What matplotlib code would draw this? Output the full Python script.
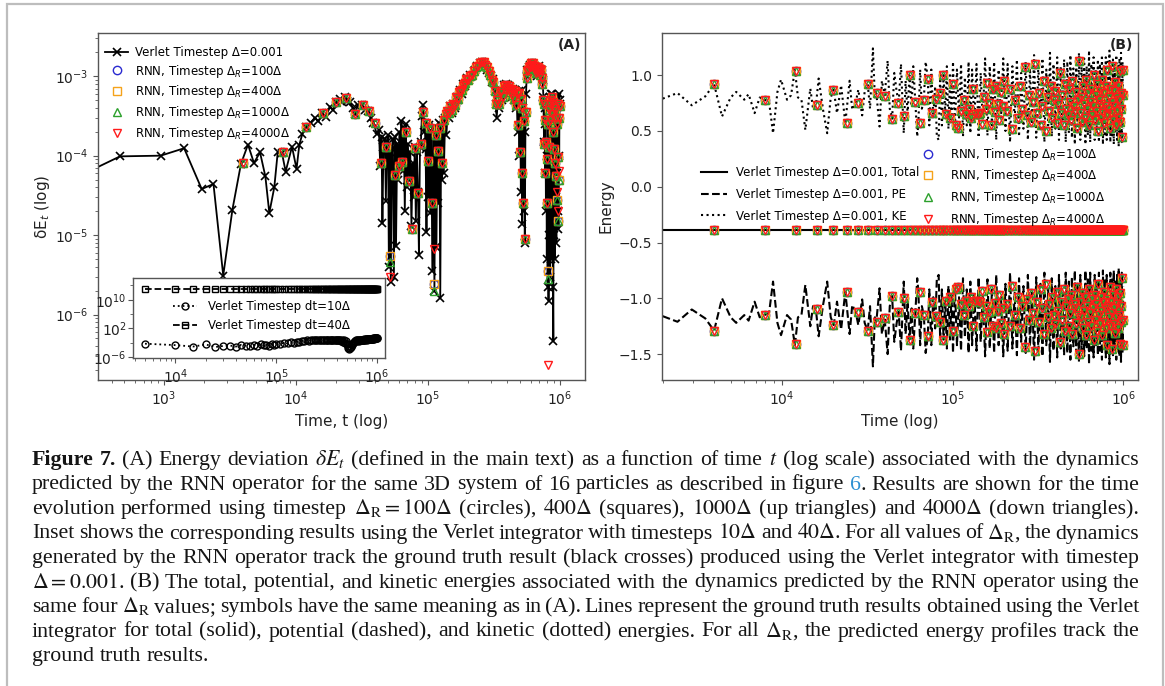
import matplotlib
matplotlib.use("Agg")
import matplotlib.pyplot as plt
from matplotlib.ticker import FixedLocator, NullFormatter
from matplotlib.patches import Rectangle

# ---------------- panel (A): energy deviation, Verlet dt = 0.001 ----------------
verletA_t = [
    200, 464, 944, 1420, 1930, 2370, 2810, 3300, 3830, 4330,
    4800, 5340, 5860, 6280, 6850, 7270, 7830, 8350, 9330, 10100,
    10600, 11200, 11900, 12900, 13900, 14800, 15700, 16800, 18100, 19000,
    20100, 21500, 22500, 23500, 24500, 25600, 27000, 28000, 29500, 31500,
    33500, 35300, 36800, 38600, 40900,
    42500, 43500, 44500, 45200, 46000, 47200, 48000, 48800, 49800, 50600,
    51500, 52300, 53200, 54200, 55200, 56300, 57300, 58500, 59500, 60800,
    62000, 63000, 64200, 65500, 66800, 68000, 69200, 70500, 72000, 73500,
    75000, 76500, 78000, 79500, 81000, 82500, 84000, 85500, 87000, 88500,
    90000, 91500, 93000, 94500, 96000, 97500, 99000, 100500, 102000, 104000,
    106000, 108000, 110000, 112000, 114000, 116000, 118000, 120000, 122000, 124000,
    126000, 128000, 130000, 132000, 135000, 138000, 141000, 144000, 148000, 152000,
    156000, 160000, 165000, 170000, 175000, 180000, 186000, 192000, 198000, 204000,
    210000, 216000, 222000, 228000, 235000, 242000, 250000, 258000, 266000, 274000,
    282000, 290000, 298000, 306000, 313000, 320000, 326000, 332000, 338000, 344000,
    350000, 358000, 366000, 374000, 382000, 390000, 398000, 406000, 414000, 422000,
    430000, 438000, 446000, 454000, 462000, 470000, 478000, 486000, 494000, 500000,
    506000, 512000, 518000, 524000, 530000, 536000, 542000, 548000, 554000, 560000,
    566000, 572000, 580000, 588000, 596000, 604000, 612000, 620000, 628000, 636000,
    644000, 652000, 660000, 668000, 676000, 684000, 692000, 700000, 710000, 720000,
    730000, 740000, 750000, 758000, 766000, 772000, 778000, 784000, 790000, 796000,
    802000, 808000, 814000, 820000, 826000, 832000, 838000, 844000, 850000, 856000,
    862000, 868000, 874000, 880000, 886000, 892000, 898000, 904000, 910000, 916000,
    922000, 928000, 934000, 940000, 946000, 952000, 958000, 964000, 970000, 976000,
    982000, 988000, 994000, 1000000,
]
verletA_dE = [
    5.0e-5, 9.8e-5, 1.0e-4, 1.24e-4, 3.8e-5, 4.4e-5, 3.1e-6, 2.1e-5, 7.9e-5, 1.38e-4,
    8.1e-5, 1.1e-4, 5.5e-5, 1.9e-5, 4.0e-5, 1.1e-4, 1.08e-4, 6.3e-5, 1.3e-4, 6.8e-5,
    1.37e-4, 1.9e-4, 2.3e-4, 2.6e-4, 3.0e-4, 2.7e-4, 3.4e-4, 3.1e-4, 4.1e-4, 3.8e-4,
    4.7e-4, 5.2e-4, 4.8e-4, 5.4e-4, 4.9e-4, 4.7e-4, 4.0e-4, 3.3e-4, 4.4e-4, 4.3e-4,
    3.8e-4, 3.7e-4, 3.0e-4, 2.6e-4, 1.9e-4,
    2.1e-4, 7.5e-5, 1.7e-4, 1.4e-5, 1.3e-4, 1.6e-4, 2.7e-5, 1.5e-4, 1.8e-4, 4.0e-6,
    1.1e-4, 2.6e-6, 1.2e-4, 1.6e-4, 3.0e-6, 1.7e-4, 7.2e-6, 1.4e-4, 5.0e-5, 2.0e-4,
    9.0e-5, 2.7e-4, 6.5e-5, 2.2e-4, 2.0e-5, 2.5e-4, 4.0e-5, 1.4e-4, 5.0e-5, 1.1e-4,
    1.3e-5, 8.0e-5, 3.0e-5, 1.3e-4, 1.5e-5, 1.1e-4, 3.5e-5, 5.6e-6, 1.3e-4, 1.5e-4,
    3.2e-4, 4.3e-4, 2.0e-4, 2.6e-4, 1.2e-4, 1.1e-5, 2.3e-4, 3.0e-5, 2.4e-4, 1.9e-5,
    2.0e-4, 3.5e-6, 2.2e-4, 2.0e-6, 2.3e-4, 7.0e-6, 2.0e-4, 2.5e-5, 2.6e-4, 1.6e-6,
    2.4e-4, 5.0e-5, 2.8e-4, 6.0e-5, 3.0e-4, 1.8e-4, 3.5e-4, 3.0e-4, 4.2e-4, 3.4e-4,
    4.5e-4, 4.0e-4, 5.5e-4, 5.0e-4, 6.7e-4, 6.0e-4, 8.0e-4, 7.5e-4, 9.5e-4, 9.0e-4,
    1.05e-3, 1.0e-3, 1.15e-3, 1.2e-3, 1.35e-3, 1.3e-3, 1.45e-3, 1.5e-3, 1.45e-3, 1.35e-3,
    1.2e-3, 1.1e-3, 1.0e-3, 8.5e-4, 9.3e-4, 6.5e-4, 4.5e-4, 3.0e-4, 4.8e-4, 4.0e-4,
    6.0e-4, 6.7e-4, 5.0e-4, 7.7e-4, 6.5e-4, 8.0e-4, 7.0e-4, 7.7e-4, 6.0e-4, 7.3e-4,
    5.5e-4, 7.0e-4, 5.0e-4, 6.7e-4, 4.0e-4, 6.0e-4, 2.0e-4, 6.5e-4, 1.0e-4, 5.5e-4,
    3.5e-5, 6.7e-4, 1.37e-5, 4.0e-4, 2.0e-5, 3.0e-4, 8.0e-6, 2.0e-4, 6.0e-4, 1.0e-3,
    1.2e-3, 1.1e-3, 1.3e-3, 1.25e-3, 1.4e-3, 1.3e-3, 1.45e-3, 1.35e-3, 1.4e-3, 1.2e-3,
    1.35e-3, 1.1e-3, 1.25e-3, 1.0e-3, 1.1e-3, 1.2e-3, 1.35e-3, 1.15e-3, 1.25e-3, 1.05e-3,
    1.2e-3, 9.0e-4, 5.5e-4, 1.5e-4, 4.0e-4, 6.0e-5, 2.5e-4, 2.0e-5, 1.5e-4, 5.0e-6,
    1.0e-4, 2.2e-6, 3.0e-4, 1.5e-6, 4.0e-4, 1.0e-5, 5.5e-4, 3.0e-6, 6.0e-4, 5.0e-6,
    5.0e-4, 2.0e-5, 6.0e-4, 4.0e-5, 2.2e-6, 4.6e-7, 5.0e-4, 1.0e-5, 4.5e-4, 5.0e-6,
    5.5e-4, 3.0e-5, 4.0e-4, 8.0e-6, 5.0e-4, 6.0e-5, 5.5e-4, 2.0e-5, 4.5e-4, 1.2e-5,
    6.0e-4, 1.0e-4, 5.0e-4, 4.5e-4,
]

# RNN output times (same sampling used in both panels)
rnn_t = list(range(4000, 200001, 4000)) + list(range(208000, 1000001, 8000))

# RNN dE, 100Δ and 400Δ coincide in the picture
rnnA_dE = [
    8.0e-5, 1.1e-4, 2.3e-4, 3.4e-4, 4.7e-4, 5.3e-4, 3.3e-4, 4.3e-4, 3.7e-4, 2.6e-4,
    8.0e-5, 1.3e-4, 5.4e-6, 5.7e-5, 7.5e-5, 8.4e-5, 2.0e-4, 4.8e-5, 1.2e-5, 1.24e-4,
    3.4e-5, 1.4e-4, 3.5e-4, 2.6e-4, 8.6e-5, 2.2e-4, 2.5e-5, 2.4e-6, 1.8e-4, 1.16e-4,
    2.2e-4, 8.2e-5, 2.8e-4, 3.3e-4, 3.6e-4, 3.4e-4, 4.2e-4, 3.8e-4, 4.5e-4, 4.4e-4,
    5.5e-4, 5.2e-4, 6.4e-4, 6.6e-4, 6.8e-4, 7.5e-4, 8.0e-4, 8.3e-4, 9.3e-4, 9.0e-4,
    1.0e-3, 1.05e-3, 1.15e-3, 1.3e-3, 1.35e-3, 1.45e-3, 1.5e-3, 1.5e-3, 1.4e-3, 1.3e-3,
    1.15e-3, 1.05e-3, 9.0e-4, 8.5e-4, 6.5e-4, 4.5e-4, 5.0e-4, 4.5e-4, 6.2e-4, 6.5e-4,
    5.5e-4, 7.5e-4, 7.0e-4, 7.8e-4, 7.2e-4, 7.5e-4, 6.3e-4, 7.0e-4, 5.8e-4, 6.8e-4,
    5.2e-4, 6.5e-4, 4.3e-4, 6.0e-4, 2.4e-4, 6.2e-4, 1.1e-4, 5.2e-4, 6.0e-5, 4.0e-4,
    2.5e-5, 2.7e-4, 8.9e-6, 3.5e-4, 9.5e-4, 1.15e-3, 1.2e-3, 1.3e-3, 1.35e-3, 1.3e-3,
    1.45e-3, 1.4e-3, 1.45e-3, 1.3e-3, 1.35e-3, 1.25e-3, 1.3e-3, 1.1e-3, 1.15e-3, 1.2e-3,
    1.3e-3, 1.15e-3, 1.25e-3, 1.05e-3, 1.2e-3, 9.5e-4, 8.0e-4, 5.0e-4, 4.5e-4, 1.4e-4,
    2.8e-4, 6.0e-5, 1.5e-4, 2.5e-5, 9.0e-5, 3.5e-6, 2.5e-4, 3.8e-4, 1.3e-4, 4.5e-4,
    2.8e-4, 5.0e-4, 3.3e-4, 5.5e-4, 2.0e-4, 4.8e-4, 1.2e-4, 4.0e-4, 8.0e-5, 3.6e-4,
    5.5e-5, 3.0e-4, 2.8e-5, 2.5e-4, 1.5e-5, 4.5e-4, 9.5e-5, 3.0e-4, 5.0e-5, 4.2e-4,
]
# points where the triangles separate from the squares
rnnA_1000_dips = {52000: 4.6e-6, 112000: 2.0e-6, 808000: 2.8e-6}
rnnA_4000_dips = {52000: 3.0e-6, 112000: 6.6e-6, 808000: 2.3e-7,
                  944000: 3.5e-5, 960000: 2.0e-5, 992000: 6.5e-5}

# inset: plain Verlet with larger steps
inset_t = list(range(5000, 100001, 5000)) + list(range(110000, 1000001, 10000))
inset_10_dE = [
    5.0e-3, 2.0e-3, 8.0e-4, 3.0e-3, 6.0e-4, 1.2e-3, 1.5e-3, 8.0e-4, 2.5e-3, 1.5e-3,
    1.0e-3, 2.2e-3, 1.3e-3, 3.0e-3, 1.8e-3, 2.5e-3, 1.5e-3, 3.5e-3, 2.8e-3, 4.0e-3,
    5.0e-3, 8.0e-3, 6.0e-3, 1.2e-2, 1.0e-2, 2.0e-2, 1.5e-2, 3.0e-2, 2.5e-2, 4.0e-2,
    3.5e-2, 5.0e-2, 4.0e-2, 6.0e-2, 5.0e-2, 7.0e-2, 4.5e-2, 6.5e-2, 5.5e-2, 7.0e-2,
    6.0e-2, 5.0e-2, 7.0e-2, 4.0e-2, 6.0e-2, 5.5e-2, 6.5e-2, 4.5e-2, 6.0e-2, 5.0e-2,
    5.5e-2, 4.0e-2, 6.0e-2, 3.0e-2, 5.0e-2, 2.0e-2, 4.0e-2, 1.0e-2, 3.0e-2, 5.0e-3,
    1.0e-3, 3.0e-4, 1.5e-4, 4.0e-4, 8.0e-4, 2.0e-3, 5.0e-3, 1.0e-2, 2.0e-2, 3.0e-2,
    2.5e-2, 4.0e-2, 3.0e-2, 5.0e-2, 4.0e-2, 3.5e-2, 5.0e-2, 4.5e-2, 6.0e-2, 5.0e-2,
    6.5e-2, 5.5e-2, 7.0e-2, 6.0e-2, 8.0e-2, 6.5e-2, 7.5e-2, 9.0e-2, 7.0e-2, 8.5e-2,
    1.0e-1, 8.0e-2, 1.1e-1, 9.0e-2, 1.2e-1, 1.0e-1, 1.3e-1, 1.1e-1, 1.4e-1, 1.2e-1,
    1.5e-1, 1.3e-1, 1.6e-1, 1.4e-1, 1.8e-1, 1.5e-1, 1.7e-1, 2.0e-1, 1.8e-1, 2.2e-1,
]
inset_40_level = 1.3e13   # dt=40Δ blows up, flat line at the top of the inset

# ---------------- panel (B): energies ----------------
verletB_t = [
    2000, 2440, 2960, 3550, 4000, 4450, 5000, 5390, 6010, 6370,
    6910, 7400, 7900, 8400, 8860, 9400, 9870, 10700, 11300, 11900,
    12400, 13000, 13700, 14650, 15200, 15800, 16400, 17400, 18400, 19300,
    20100, 21000, 22200, 23500, 24900, 25800, 27000, 28000, 29500, 30500,
    31800, 32800, 34100, 35000, 35700, 37300, 38500, 40000, 41600, 42800,
    44200, 45500, 47000, 48300, 49800, 51700, 53000, 54500, 55800, 57500,
    58800, 60400, 62000, 63000, 64500, 66000, 67800, 69500, 71500, 73000,
    75000, 77000, 79000, 80800, 82800, 84500, 86500, 88500, 90500, 92500,
    94500, 96500, 98500, 100500, 103000, 106000, 109000, 112000, 115000, 118000,
    121000, 124000, 127000, 130000, 134000, 138000, 142000, 146000, 150000, 155000,
    160000, 165000, 170000, 175000, 180000, 186000, 192000, 198000, 204000, 210000,
    217000, 224000, 231000, 238000, 245000, 252000, 260000, 268000, 276000, 284000,
    292000, 300000, 309000, 318000, 327000, 336000, 345000, 354000, 363000, 372000,
    381000, 390000, 400000, 410000, 420000, 430000, 440000, 450000, 460000, 470000,
    480000, 490000, 500000, 510000, 520000, 530000, 540000, 550000, 560000, 570000,
    580000, 590000, 600000, 610000, 620000, 630000, 640000, 650000, 660000, 670000,
    680000, 690000, 700000, 710000, 720000, 730000, 740000, 750000, 760000, 770000,
    780000, 790000, 800000, 810000, 820000, 830000, 840000, 850000, 860000, 870000,
    880000, 890000, 900000, 910000, 920000, 930000, 940000, 950000, 960000, 970000,
    980000, 990000, 1000000,
]
verletB_KE = [
    0.79, 0.84, 0.73, 0.81, 0.92, 0.63, 0.80, 0.85, 0.78, 0.83,
    0.66, 0.80, 0.78, 0.76, 0.48, 0.85, 0.96, 0.78, 0.82, 1.05,
    0.80, 0.78, 0.51, 0.88, 0.70, 0.73, 0.97, 0.69, 0.48, 0.80,
    0.87, 0.66, 0.91, 0.57, 0.95, 0.69, 0.75, 0.87, 0.64, 0.85,
    0.92, 0.70, 1.24, 0.80, 0.84, 0.54, 0.95, 0.82, 1.13, 0.70,
    0.61, 1.02, 0.85, 0.75, 1.10, 0.48, 0.95, 0.65, 1.00, 0.72,
    1.08, 0.77, 0.45, 0.57, 1.05, 0.70, 0.78, 1.12, 0.97, 0.55,
    1.05, 0.62, 0.90, 0.45, 0.42, 1.00, 0.55, 1.00, 0.65, 1.08,
    0.52, 1.00, 0.60, 1.12, 0.50, 1.05, 0.62, 1.10, 0.45, 0.98,
    0.55, 1.12, 0.48, 1.05, 0.58, 1.10, 0.44, 1.02, 0.60, 1.15,
    0.46, 1.08, 0.55, 1.12, 0.42, 1.05, 0.62, 1.15, 0.50, 1.10,
    0.40, 1.08, 0.58, 1.14, 0.45, 1.02, 0.52, 1.12, 0.42, 1.06,
    0.56, 1.18, 0.44, 1.10, 0.50, 1.15, 0.40, 1.05, 0.55, 1.20,
    0.45, 1.10, 0.52, 1.16, 0.42, 1.08, 0.58, 1.14, 0.40, 1.12,
    0.48, 1.18, 0.44, 1.06, 0.38, 1.12, 0.50, 1.20, 0.42, 1.10,
    0.55, 1.15, 0.38, 1.08, 0.46, 1.22, 0.40, 1.10, 0.52, 1.16,
    0.42, 1.05, 0.48, 1.14, 0.40, 1.10, 0.55, 1.18, 0.38, 1.08,
    0.45, 1.16, 0.42, 1.12, 0.50, 1.22, 0.40, 1.06, 0.46, 1.14,
    0.38, 1.10, 0.48, 1.18, 0.42, 1.08, 0.36, 1.15, 0.45, 1.20,
    0.40, 1.12, 0.52,
]
verletB_PE = [
    -1.16, -1.21, -1.10, -1.18, -1.29, -1.00, -1.17, -1.22, -1.15, -1.20,
    -1.03, -1.17, -1.15, -1.13, -0.85, -1.22, -1.33, -1.15, -1.19, -1.42,
    -1.17, -1.15, -0.88, -1.25, -1.07, -1.10, -1.34, -1.06, -0.85, -1.17,
    -1.24, -1.03, -1.28, -0.94, -1.32, -1.06, -1.12, -1.24, -1.01, -1.22,
    -1.29, -1.07, -1.61, -1.17, -1.21, -0.91, -1.32, -1.19, -1.50, -1.07,
    -0.98, -1.39, -1.22, -1.12, -1.47, -0.85, -1.32, -1.02, -1.37, -1.09,
    -1.45, -1.14, -0.82, -0.94, -1.42, -1.07, -1.15, -1.49, -1.34, -0.92,
    -1.42, -0.99, -1.27, -0.82, -0.79, -1.37, -0.92, -1.37, -1.02, -1.45,
    -0.89, -1.37, -0.97, -1.49, -0.87, -1.42, -0.99, -1.47, -0.82, -1.35,
    -0.92, -1.49, -0.85, -1.42, -0.95, -1.47, -0.81, -1.39, -0.97, -1.52,
    -0.83, -1.45, -0.92, -1.49, -0.79, -1.42, -0.99, -1.52, -0.87, -1.47,
    -0.77, -1.45, -0.95, -1.51, -0.82, -1.39, -0.89, -1.49, -0.79, -1.43,
    -0.93, -1.55, -0.81, -1.47, -0.87, -1.52, -0.77, -1.42, -0.92, -1.57,
    -0.82, -1.47, -0.89, -1.53, -0.79, -1.45, -0.95, -1.51, -0.77, -1.49,
    -0.85, -1.55, -0.81, -1.43, -0.75, -1.49, -0.87, -1.57, -0.79, -1.47,
    -0.92, -1.52, -0.75, -1.45, -0.83, -1.59, -0.77, -1.47, -0.89, -1.53,
    -0.79, -1.42, -0.85, -1.51, -0.77, -1.47, -0.92, -1.55, -0.75, -1.45,
    -0.82, -1.53, -0.79, -1.49, -0.87, -1.59, -0.77, -1.43, -0.83, -1.51,
    -0.75, -1.47, -0.85, -1.55, -0.79, -1.45, -0.73, -1.52, -0.82, -1.57,
    -0.77, -1.49, -0.89,
]
total_energy = -0.385
verletB_total_t = [2000, 1000000]

rnnB_KE = [
    0.92, 0.78, 1.04, 0.73, 0.87, 0.57, 0.75, 0.92, 0.84, 0.81,
    0.61, 0.75, 0.63, 1.00, 0.76, 0.57, 0.78, 0.97, 0.66, 0.79,
    0.84, 1.00, 0.65, 0.62, 0.92, 0.55, 0.53, 0.68, 0.78, 0.65,
    0.70, 0.62, 0.88, 0.65, 0.65, 0.66, 0.56, 0.80, 0.70, 0.93,
    0.75, 0.55, 0.88, 0.67, 0.90, 0.74, 0.60, 0.85, 0.72, 0.95,
    0.68, 0.88, 0.52, 0.78, 0.62, 0.90, 0.70, 1.07, 0.64, 0.82,
    0.58, 0.76, 1.10, 0.66, 0.84, 0.55, 0.72, 0.95, 0.50, 0.80,
    0.68, 0.90, 0.62, 0.78, 0.86, 0.57, 0.74, 1.02, 0.66, 0.82,
    0.55, 0.92, 0.70, 0.64, 0.88, 0.76, 0.60, 0.95, 0.72, 0.68,
    0.85, 0.53, 0.78, 1.13, 0.66, 0.80, 0.58, 0.90, 0.74, 0.62,
    0.96, 0.70, 0.84, 0.55, 0.76, 0.88, 0.64, 0.72, 1.00, 0.60,
    0.82, 0.68, 0.92, 0.50, 0.78, 0.86, 0.62, 0.74, 0.96, 0.66,
    0.84, 0.57, 0.72, 0.90, 0.64, 1.05, 0.70, 0.80, 0.53, 0.88,
    0.66, 0.76, 1.08, 0.60, 0.86, 0.72, 0.94, 0.55, 0.80, 0.68,
    0.90, 0.62, 0.78, 1.04, 0.58, 0.84, 0.70, 0.45, 0.82, 1.05,
]
rnnB_PE = [
    -1.29, -1.15, -1.41, -1.10, -1.24, -0.94, -1.12, -1.29, -1.21, -1.18,
    -0.98, -1.12, -1.00, -1.37, -1.13, -0.94, -1.15, -1.34, -1.03, -1.16,
    -1.21, -1.37, -1.02, -0.99, -1.29, -0.92, -0.90, -1.05, -1.15, -1.02,
    -1.07, -0.99, -1.25, -1.02, -1.02, -1.03, -0.93, -1.17, -1.07, -1.30,
    -1.12, -0.92, -1.25, -1.04, -1.27, -1.11, -0.97, -1.22, -1.09, -1.32,
    -1.05, -1.25, -0.89, -1.15, -0.99, -1.27, -1.07, -1.44, -1.01, -1.19,
    -0.95, -1.13, -1.47, -1.03, -1.21, -0.92, -1.09, -1.32, -0.87, -1.17,
    -1.05, -1.27, -0.99, -1.15, -1.23, -0.94, -1.11, -1.39, -1.03, -1.19,
    -0.92, -1.29, -1.07, -1.01, -1.25, -1.13, -0.97, -1.32, -1.09, -1.05,
    -1.22, -0.90, -1.15, -1.50, -1.03, -1.17, -0.95, -1.27, -1.11, -0.99,
    -1.33, -1.07, -1.21, -0.92, -1.13, -1.25, -1.01, -1.09, -1.37, -0.97,
    -1.19, -1.05, -1.29, -0.87, -1.15, -1.23, -0.99, -1.11, -1.33, -1.03,
    -1.21, -0.94, -1.09, -1.27, -1.01, -1.42, -1.07, -1.17, -0.90, -1.25,
    -1.03, -1.13, -1.45, -0.97, -1.23, -1.09, -1.31, -0.92, -1.17, -1.05,
    -1.27, -0.99, -1.15, -1.41, -0.95, -1.21, -1.07, -0.82, -1.19, -1.42,
]

rnn_labels = ["100Δ", "400Δ", "1000Δ", "4000Δ"]
rnn_markers = ["o", "s", "^", "v"]
rnn_colors = ["#2a2ad0", "#f5a31a", "#2ca02c", "#ff1a1a"]

caption_lines = [
    r"Figure 7. (A) Energy deviation $\delta{}E_t$ (defined in the main text) as a function of time $t$ (log scale) associated with the dynamics",
    r"predicted by the RNN operator for the same 3D system of 16 particles as described in figure 6. Results are shown for the time",
    r"evolution performed using timestep $\Delta_\mathrm{R}=100\Delta$ (circles), $400\Delta$ (squares), $1000\Delta$ (up triangles) and $4000\Delta$ (down triangles).",
    r"Inset shows the corresponding results using the Verlet integrator with timesteps $10\Delta$ and $40\Delta$. For all values of $\Delta_\mathrm{R}$, the dynamics",
    r"generated by the RNN operator track the ground truth result (black crosses) produced using the Verlet integrator with timestep",
    r"$\Delta=0.001$. (B) The total, potential, and kinetic energies associated with the dynamics predicted by the RNN operator using the",
    r"same four $\Delta_\mathrm{R}$ values; symbols have the same meaning as in (A). Lines represent the ground truth results obtained using the Verlet",
    r"integrator for total (solid), potential (dashed), and kinetic (dotted) energies. For all $\Delta_\mathrm{R}$, the predicted energy profiles track the",
    r"ground truth results.",
]

# ---------------------------------------------------------------------------
W, H = 1165, 686
fig = plt.figure(figsize=(W / 100, H / 100), dpi=100)
fig.patch.set_facecolor("white")
spine_c = "#555555"
txt_c = "#222222"


def style_axes(ax):
    for s in ax.spines.values():
        s.set_color(spine_c)
        s.set_linewidth(1.0)
    ax.tick_params(which="both", colors=spine_c, labelcolor=txt_c, labelsize=10)


def px_box(x0, y0, x1, y1):
    return [x0 / W, 1 - y1 / H, (x1 - x0) / W, (y1 - y0) / H]


# ---- panel A ----
axA = fig.add_axes(px_box(98, 33, 585, 380))
style_axes(axA)
axA.set_xscale("log")
axA.set_yscale("log")
axA.plot(verletA_t, verletA_dE, color="black", lw=1.3, marker="x", ms=6, mew=1.2,
         label="Verlet Timestep Δ=0.001", zorder=2)
for i, (lab, mk, col) in enumerate(zip(rnn_labels, rnn_markers, rnn_colors)):
    if i == 2:
        vals = [rnnA_1000_dips.get(t, v) for t, v in zip(rnn_t, rnnA_dE)]
    elif i == 3:
        vals = [rnnA_4000_dips.get(t, v) for t, v in zip(rnn_t, rnnA_dE)]
    else:
        vals = rnnA_dE
    axA.plot(rnn_t, vals, linestyle="none", marker=mk, ms=6 if i < 2 else 5.5,
             mfc="none", mec=col, mew=1.0, label="RNN, Timestep Δ$_R$=" + lab, zorder=3 + i)
axA.set_xlim(316, 1.55e6)
axA.set_ylim(1.5e-7, 3.5e-3)
axA.set_xlabel("Time, t (log)", fontsize=11, color=txt_c)
axA.set_ylabel("δE$_t$ (log)", fontsize=11, color=txt_c, labelpad=2)
legA = axA.legend(loc="upper left", bbox_to_anchor=(0.015, 0.963), frameon=False, fontsize=8.5,
                  labelspacing=0.32, handlelength=1.9, handletextpad=0.6, borderpad=0.0,
                  borderaxespad=0.0)
legA.set_zorder(20)
axA.text(0.992, 0.985, "(A)", transform=axA.transAxes, ha="right", va="top",
         fontsize=10, fontweight="bold", color=txt_c)

# inset
axI = fig.add_axes(px_box(133, 278, 385, 358))
style_axes(axI)
axI.set_facecolor("white")
axI.set_xscale("log")
axI.set_yscale("log")
axI.plot(inset_t, inset_10_dE, color="black", ls=":", lw=1.3, marker="o", ms=5,
         mfc="none", mew=1.0, label="Verlet Timestep dt=10Δ")
axI.plot(inset_t, [inset_40_level] * len(inset_t), color="black", ls="--", lw=1.3,
         marker="s", ms=5, mfc="none", mew=1.0, label="Verlet Timestep dt=40Δ")
axI.set_xlim(3800, 1.2e6)
axI.set_ylim(5e-7, 1.2e16)
axI.yaxis.set_major_locator(FixedLocator([1e-6, 1e2, 1e10]))
axI.yaxis.set_minor_locator(FixedLocator([1e-2, 1e6, 1e14]))
axI.yaxis.set_minor_formatter(NullFormatter())
axI.tick_params(axis="y", pad=1)
axI.legend(loc="upper left", bbox_to_anchor=(0.16, 0.72), frameon=False, fontsize=8.5,
           labelspacing=0.5, handlelength=2.0, handletextpad=0.9, borderpad=0.0,
           borderaxespad=0.0)

# ---- panel B ----
axB = fig.add_axes(px_box(662, 33, 1138, 380))
style_axes(axB)
axB.set_xscale("log")
lt, = axB.plot(verletB_total_t, [total_energy] * len(verletB_total_t), color="black",
               lw=1.5, ls="-", label="Verlet Timestep Δ=0.001, Total", zorder=2)
lp, = axB.plot(verletB_t, verletB_PE, color="black", lw=1.5, ls="--",
               label="Verlet Timestep Δ=0.001, PE", zorder=2)
lk, = axB.plot(verletB_t, verletB_KE, color="black", lw=1.5, ls=":",
               label="Verlet Timestep Δ=0.001, KE", zorder=2)
rnn_handles = []
for i, (lab, mk, col) in enumerate(zip(rnn_labels, rnn_markers, rnn_colors)):
    kw = dict(linestyle="none", marker=mk, ms=6 if i < 2 else 5.5, mfc="none",
              mec=col, mew=1.0, zorder=3 + i)
    h, = axB.plot(rnn_t, rnnB_KE, label="RNN, Timestep Δ$_R$=" + lab, **kw)
    axB.plot(rnn_t, rnnB_PE, **kw)
    axB.plot(rnn_t, [total_energy] * len(rnn_t), **kw)
    rnn_handles.append(h)
axB.set_xlim(1980, 1.22e6)
axB.set_ylim(-1.732, 1.378)
axB.set_yticks([-1.5, -1.0, -0.5, 0.0, 0.5, 1.0])
axB.set_xlabel("Time (log)", fontsize=11, color=txt_c)
axB.set_ylabel("Energy", fontsize=11, color=txt_c)
leg1 = axB.legend(handles=[lt, lp, lk], loc="upper left", bbox_to_anchor=(0.082, 0.617),
                  frameon=False, fontsize=8.5, labelspacing=0.75, handlelength=2.2,
                  handletextpad=0.8, borderpad=0.0, borderaxespad=0.0)
leg1.set_zorder(20)
axB.add_artist(leg1)
leg2 = axB.legend(handles=rnn_handles, loc="upper left", bbox_to_anchor=(0.535, 0.675),
                  frameon=False, fontsize=8.5, labelspacing=0.4, handlelength=2.0,
                  handletextpad=0.8, borderpad=0.0, borderaxespad=0.0)
leg2.set_zorder(20)
axB.text(0.99, 0.985, "(B)", transform=axB.transAxes, ha="right", va="top",
         fontsize=10, fontweight="bold", color=txt_c)

# frame around the figure block
fig.add_artist(Rectangle((7 / W, -0.05), (1163 - 7) / W, 1.05 - 4 / H, transform=fig.transFigure,
                         fill=False, edgecolor="#bdbdbd", lw=1.6))

# ---- caption, justified line by line ----
renderer = fig.canvas.get_renderer()
cap_kw = dict(family="Liberation Serif", math_fontfamily="stix", color="#151515")
fs0 = 14.0
x_left, x_right = 32, 1140
link_c = "#2b8fd2"


def words_of(i, line):
    out = []
    for j, w in enumerate(line.split(" ")):
        if i == 0 and j < 2:
            out.append([(w, "bold", None)])
        elif i == 1 and w == "6.":
            out.append([("6", "normal", link_c), (".", "normal", None)])
        else:
            out.append([(w, "normal", None)])
    return out


def measure(s, weight):
    t = fig.text(0, 0, s, fontsize=fs0, fontweight=weight, **cap_kw)
    w = t.get_window_extent(renderer).width
    t.remove()
    return w


space0 = measure("x x", "normal") - measure("xx", "normal")
all_words = [words_of(i, ln) for i, ln in enumerate(caption_lines)]
all_w = [[[measure(s, wt) for s, wt, c in word] for word in words] for words in all_words]
# fit so the tightest line keeps about 70 % of a normal word space
natural = [sum(sum(w) for w in ws) + 0.7 * space0 * (len(ws) - 1) for ws in all_w[:-1]]
scale = (x_right - x_left) / max(natural)
fs = fs0 * scale

y_base = 465.0
step = 24.5
for i, (words, widths) in enumerate(zip(all_words, all_w)):
    wsum = sum(sum(w) for w in widths) * scale
    if i < len(all_words) - 1:
        gap = (x_right - x_left - wsum) / (len(words) - 1)
    else:
        gap = space0 * scale
    x = x_left
    y = 1 - (y_base + i * step) / H
    for word, ww in zip(words, widths):
        for (s, wt, c), w in zip(word, ww):
            kw = dict(cap_kw)
            if c is not None:
                kw["color"] = c
            fig.text(x / W, y, s, fontsize=fs, fontweight=wt, va="baseline", ha="left", **kw)
            x += w * scale
        x += gap

fig.savefig("out.png", dpi=100, facecolor="white")
